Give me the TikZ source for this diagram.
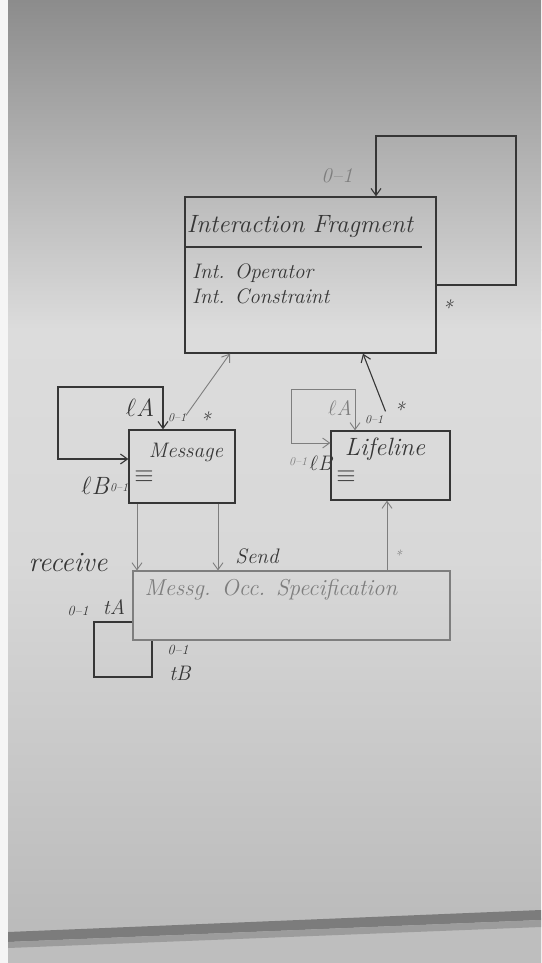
\documentclass[tikz,border=0pt]{standalone}
\usetikzlibrary{arrows.meta}
\definecolor{ink}{HTML}{363636}
\definecolor{faint}{HTML}{7E7E7E}
\definecolor{bgA}{HTML}{8C8C8C}
\definecolor{bgB}{HTML}{DCDCDC}
\definecolor{bgM}{HTML}{D8D8D8}
\definecolor{bgC}{HTML}{B8B8B8}
\definecolor{trayD}{HTML}{7C7C7C}
\definecolor{trayL}{HTML}{9C9C9C}
\definecolor{floorc}{HTML}{BEBEBE}
\begin{document}
\begin{tikzpicture}[x=1pt,y=-1pt,
  classbox/.style={draw=ink,line width=1.3pt,inner sep=0pt,rectangle},
  assoc/.style={draw=ink,line width=1.1pt},
  thin/.style={draw=faint,line width=0.9pt},
  tip/.style={-{Straight Barb[length=7pt,width=10pt]}},
  bothtips/.style={{Straight Barb[length=7pt,width=10pt]}-{Straight Barb[length=7pt,width=10pt]}},
  lbl/.style={text=ink,inner sep=1pt,font=\itshape},
  big/.style={lbl,font=\fontsize{25}{29}\selectfont\itshape},
  mid/.style={lbl,font=\fontsize{21}{25}\selectfont\itshape},
  small/.style={lbl,font=\fontsize{14}{16}\selectfont\itshape},
  tiny/.style={lbl,font=\fontsize{12}{14}\selectfont\itshape},
  eqv/.style={lbl,font=\fontsize{28}{30}\selectfont}]
% background (whiteboard)
\useasboundingbox (0,0) rectangle (541,963);
\shade[top color=bgA,bottom color=bgB] (0,0) rectangle (541,330);
\shade[top color=bgB,bottom color=bgM] (0,329.5) rectangle (541,560);
\shade[top color=bgM,bottom color=bgC] (0,559.5) rectangle (541,963);
\fill[floorc] (0,940) -- (541,918) -- (541,963) -- (0,963) -- cycle;
\fill[trayD] (8,932) -- (541,910) -- (541,920) -- (8,942) -- cycle;
\fill[trayL] (8,942) -- (541,920) -- (541,927) -- (8,948) -- cycle;
\fill[white!92!gray] (0,0) rectangle (8,963);

% classes
\node[classbox,minimum width=251,minimum height=156] (if) at (310.5,275) {};
\node[big] (ifname) at (300,227) {Interaction Fragment};
\draw[assoc] (if.west |- 0,247) -- (422,247);
\node[mid,anchor=west,align=left] (ifattr) at (191,284) {Int. Operator\\Int. Constraint};

\node[classbox,minimum width=106,minimum height=73] (msg) at (182,466.5) {};
\node[mid] (msgname) at (186,452) {Message};
\node[eqv] (msgattr) at (144,477) {$\equiv$};

\node[classbox,minimum width=119,minimum height=69] (ll) at (390.5,465.5) {};
\node[big] (llname) at (385,449) {Lifeline};
\node[eqv] (llattr) at (346,477) {$\equiv$};

\node[classbox,draw=faint,line width=1.1pt,minimum width=317,minimum height=69] (mos) at (291.5,605.5) {};
\node[mid,text=faint,font=\fontsize{23}{26}\selectfont\itshape] (mosname) at (271,590) {Messg. Occ. Specification};

% Interaction Fragment self association
\draw[assoc,tip] (if.east |- 0,285) -- (516,285) -- (516,136) -- (376,136) -- (if.north -| 376,0);
\node[mid,text=faint] (if01) at (337,176) {0--1};
\node[mid] (ifstar) at (447,308) {*};

% Message -> Interaction Fragment
\draw[thin,tip] ([shift={(4,-14)}]msg.north) -- (if.south -| 230,0);
\node[mid] (msgstar) at (205,420) {*};
% Lifeline -> Interaction Fragment
\draw[assoc,tip] ([shift={(-5,-19)}]ll.north) -- (if.south -| 363,0);
\node[mid] (llstar) at (399,410) {*};

% Message self association
\draw[assoc,bothtips] (msg.west |- 0,459) -- (58,459) -- (58,387) -- (163,387) -- (msg.north -| 163,0);
\node[big] (msgA) at (140,408) {$\ell$A};
\node[tiny] (msgA01) at (177,418) {0--1};
\node[big] (msgB) at (95,486) {$\ell$B};
\node[tiny] (msgB01) at (119,488) {0--1};

% Lifeline self association
\draw[thin,bothtips] (ll.west |- 0,443) -- (291,443) -- (291,389) -- (355,389) -- (ll.north -| 355,0);
\node[mid,text=faint] (llA) at (340,408) {$\ell$A};
\node[tiny] (llA01) at (374,420) {0--1};
\node[tiny,text=faint] (llB01) at (298,462) {0--1};
\node[mid] (llB) at (321,463) {$\ell$B};

% Message -> Messg. Occ. Specification
\draw[thin,tip] (msg.south -| 137,0) -- (mos.north -| 137,0);
\node[big,font=\fontsize{28}{31}\selectfont\itshape] (recv) at (68,563) {receive};
\draw[thin,tip] (msg.south -| 218,0) -- (mos.north -| 218,0);
\node[mid] (send) at (257,556) {Send};

% Messg. Occ. Specification -> Lifeline
\draw[thin,tip] (mos.north -| 387,0) -- (ll.south -| 387,0);
\node[small,text=faint] (mosstar) at (398,555) {*};

% Messg. Occ. Specification self association
\draw[assoc] (mos.west |- 0,622) -- (94,622) -- (94,677) -- (152,677) -- (mos.south -| 152,0);
\node[small] (mosA01) at (78,611) {0--1};
\node[mid] (mosA) at (114,607) {tA};
\node[small] (mosB01) at (178,650) {0--1};
\node[mid] (mosB) at (180,673) {tB};
\end{tikzpicture}
\end{document}
